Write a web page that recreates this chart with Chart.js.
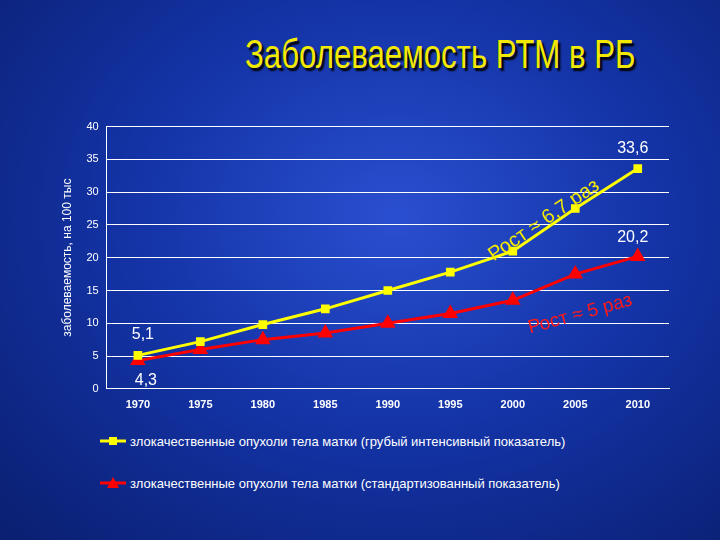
<!DOCTYPE html>
<html>
<head>
<meta charset="utf-8">
<script src="https://cdn.jsdelivr.net/npm/chart.js@4"></script>
<style>
  body { margin:0; width:720px; height:540px; overflow:hidden;
         background: radial-gradient(ellipse at 55% 40%, #2a4fd0 0%, #1434a8 45%, #0a1f70 100%);
         font-family: "Liberation Sans", Arial, sans-serif; }
  #title { position:absolute; left:245px; top:32px; white-space:nowrap; font-family:"Liberation Sans",sans-serif;
           font-size:40px; color:#f4ea00; text-shadow:3px 3px 2px #000;
           transform:scaleX(0.78); transform-origin:left top; }
  #wrap { position:absolute; left:56px; top:112px; width:628px; height:310px; }
  #legend { position:absolute; left:100px; top:430px; color:#fff; font-size:13px; }
  #legend div { height:22px; margin-bottom:20px; display:flex; align-items:center; }
  #legend svg { margin-right:4px; }
</style>
</head>
<body>
<div id="title">Заболеваемость РТМ в РБ</div>
<div id="wrap"><canvas id="c"></canvas></div>
<div id="legend"></div>
<script>
// ---- data ----
const years = ['1970','1975','1980','1985','1990','1995','2000','2005','2010'];
const crudeRate = [5.1, 7.2, 9.8, 12.2, 15.0, 17.8, 21.0, 27.5, 33.6];
const stdRate = [4.3, 6.0, 7.5, 8.5, 10.0, 11.5, 13.5, 17.5, 20.2];
const crudeLabel = 'злокачественные опухоли тела матки  (грубый интенсивный показатель)';
const stdLabel = 'злокачественные опухоли тела матки (стандартизованный показатель)';

// legend in HTML, two rows
const legend = document.getElementById('legend');
legend.innerHTML =
  '<div><svg width="26" height="10"><line x1="0" y1="5" x2="26" y2="5" stroke="#ffff00" stroke-width="3"/><rect x="9" y="1" width="8" height="8" fill="#ffff00"/></svg>' + crudeLabel + '</div>' +
  '<div><svg width="26" height="12"><line x1="0" y1="6" x2="26" y2="6" stroke="#ff0000" stroke-width="3"/><polygon points="13,0 19,11 7,11" fill="#ff0000"/></svg>' + stdLabel + '</div>';

// text annotations placed with the scales
const notes = {
  id: 'notes',
  afterDatasetsDraw(chart) {
    const { ctx, scales: { x, y } } = chart;
    ctx.save();
    ctx.font = '16px "Liberation Sans", sans-serif';
    ctx.fillStyle = '#ffffff';
    ctx.textAlign = 'center';
    ctx.fillText('33,6', x.getPixelForValue(8) - 5, y.getPixelForValue(33.6) - 16);
    ctx.fillText('20,2', x.getPixelForValue(8) - 5, y.getPixelForValue(20.2) - 14);
    ctx.fillText('5,1', x.getPixelForValue(0) + 5, y.getPixelForValue(5.1) - 16);
    ctx.fillText('4,3', x.getPixelForValue(0) + 8, y.getPixelForValue(4.3) + 24);

    ctx.font = '20px "Liberation Sans", sans-serif';
    ctx.fillStyle = '#f4ea00';
    ctx.translate(x.getPixelForValue(6.55), y.getPixelForValue(25));
    ctx.rotate(-0.6);
    ctx.fillText('Рост ≈ 6,7 раз', 0, 0);
    ctx.restore();

    ctx.save();
    ctx.font = '19px "Liberation Sans", sans-serif';
    ctx.fillStyle = '#ff1a1a';
    ctx.textAlign = 'center';
    ctx.translate(x.getPixelForValue(7.1), y.getPixelForValue(10.6));
    ctx.rotate(-0.27);
    ctx.fillText('Рост ≈ 5 раз', 0, 0);
    ctx.restore();
  }
};

Chart.defaults.font.family = '"Liberation Sans", Arial, sans-serif';
Chart.defaults.color = '#ffffff';

new Chart(document.getElementById('c'), {
  type: 'line',
  data: {
    labels: years,
    datasets: [
      { label: crudeLabel, data: crudeRate, borderColor: '#ffff00', backgroundColor: '#ffff00',
        borderWidth: 3, pointStyle: 'rect', pointRadius: 4, tension: 0 },
      { label: stdLabel, data: stdRate, borderColor: '#ff0000', backgroundColor: '#ff0000',
        borderWidth: 3, pointStyle: 'triangle', pointRadius: 6, tension: 0 }
    ]
  },
  options: {
    responsive: true, maintainAspectRatio: false, animation: false,
    layout: { padding: { right: 15, top: 8 } },
    plugins: { legend: { display: false }, tooltip: { enabled: false } },
    scales: {
      x: {
        offset: true,
        grid: { display: false, drawTicks: false },
        border: { color: '#ffffff', width: 1 },
        ticks: { font: { size: 11, weight: 'bold' }, padding: 10 }
      },
      y: {
        min: 0, max: 40,
        ticks: { stepSize: 5, font: { size: 11 }, padding: 8 },
        grid: { color: '#ffffff', lineWidth: 1, drawTicks: false },
        border: { color: '#ffffff', width: 1 },
        title: { display: true, text: 'заболеваемость, на 100 тыс', font: { size: 12 } }
      }
    }
  },
  plugins: [notes]
});
</script>
</body>
</html>
